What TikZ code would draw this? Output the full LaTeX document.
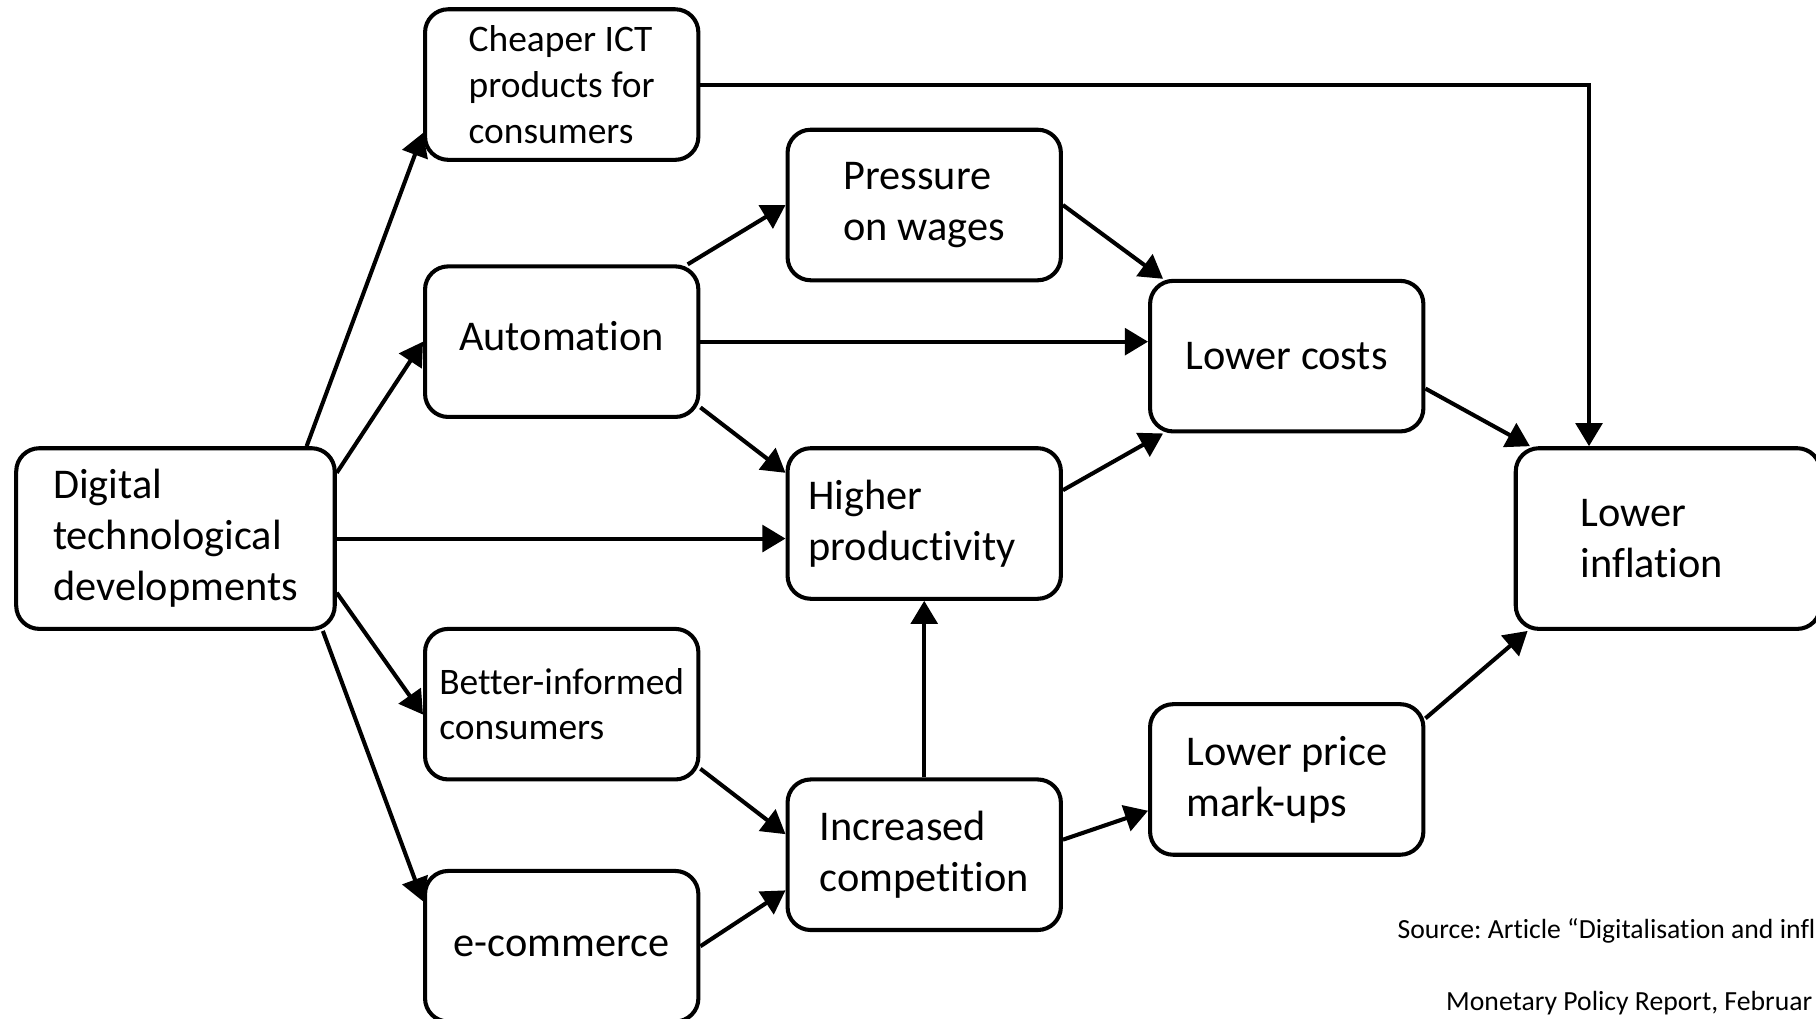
\documentclass[tikz,border=0pt]{standalone}
\usepackage{fontspec}
\setmainfont{Carlito}[Ligatures=NoCommon]
\frenchspacing
\usetikzlibrary{arrows.meta}

\begin{document}
\begin{tikzpicture}[
        box/.style={draw, line width=1pt, rounded corners=0.2cm, minimum width=2.36cm, minimum height=1.30cm, align=left, font=\fontsize{10.4}{12.5}\selectfont},
        smallbox/.style={box, font=\fontsize{9.2}{11.2}\selectfont},
        arr/.style={line width=1pt, -{Triangle[length=0.2cm, width=0.23cm]}},
        src/.style={anchor=west, inner sep=0pt, font=\fontsize{6.8}{8}\selectfont}
    ]
        \useasboundingbox (0, 0) rectangle (15.68, 8.79);
        \clip (0, 0) rectangle (15.68, 8.79);

        \node[box, minimum width=2.75cm, minimum height=1.56cm] (dig) at(1.515, 4.14){Digital\\technological\\developments};

        \node[smallbox] (cheap) at(4.85, 8.06){Cheaper ICT\\products for\\consumers};
        \node[box, text depth=0.1cm] (auto) at(4.85, 5.84){Automation};
        \node[smallbox] (better) at(4.85, 2.71){Better-informed\\consumers};
        \node[box] (ecom) at(4.85, 0.62){e-commerce};

        \node[box] (press) at(7.98, 7.02){Pressure\\on wages};
        \node[box, text width=2.0cm, inner xsep=0.18cm] (higher) at(7.98, 4.27){Higher\\productivity};
        \node[box] (incr) at(7.98, 1.41){Increased\\competition};

        \node[box] (lcost) at(11.11, 5.715){Lower costs};
        \node[box] (lprice) at(11.11, 2.06){Lower price\\mark-ups};

        \node[box, anchor=west, minimum height=1.56cm, text width=1.51cm, inner xsep=0.56cm] (linfl) at(13.07, 4.14){Lower\\inflation};

        \draw[arr] ([xshift=-0.26cm]dig.north east) -- ([yshift=0.25cm]cheap.south west);
        \draw[arr] ([yshift=-0.23cm]dig.north east) -- (auto.west);
        \draw[arr] (dig.east) -- (dig.east -| higher.west);
        \draw[arr] ([yshift=0.33cm]dig.south east) -- ([yshift=-0.09cm]better.west);
        \draw[arr] ([xshift=-0.12cm]dig.south east) -- ([yshift=-0.28cm]ecom.north west);

        \draw[arr] ([xshift=-0.11cm]auto.north east) -- (press.west);
        \draw[arr] (auto.east) -- (auto.east -| lcost.west);
        \draw[arr] ([yshift=0.10cm]auto.south east) -- ([yshift=-0.23cm]higher.north west);
        \draw[arr] ([yshift=0.11cm]better.south east) -- ([yshift=-0.49cm]incr.north west);
        \draw[arr] (ecom.east) -- ([yshift=0.36cm]incr.south west);

        \draw[arr] (press.east) -- ([xshift=0.13cm]lcost.north west);
        \draw[arr] ([yshift=-0.38cm]higher.north east) -- ([xshift=0.13cm]lcost.south west);
        \draw[arr] (incr.north) -- (higher.south);
        \draw[arr] ([yshift=0.13cm]incr.east) -- ([yshift=-0.27cm]lprice.west);

        \draw[arr] ([yshift=-0.28cm]lcost.east) -- ([xshift=0.14cm]linfl.north west);
        \draw[arr] ([yshift=-0.14cm]lprice.north east) -- ([xshift=0.12cm]linfl.south west);
        \draw[arr] (cheap.east) -| ([xshift=0.65cm]linfl.north west);

        \node[src] (srcart) at(12.06, 0.75){Source: Article “Digitalisation and infl};
        \node[src] (srcmpr) at(12.48, 0.13){Monetary Policy Report, Februar};
    \end{tikzpicture}
\end{document}
